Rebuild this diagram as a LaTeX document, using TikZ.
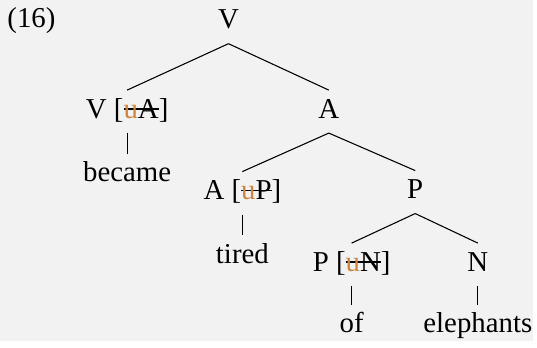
\documentclass[tikz,border=0pt]{standalone}
\usepackage{fontspec}
\setmainfont{Liberation Serif}
\usepackage{tikz}
\usetikzlibrary{positioning}
\definecolor{uninterp}{RGB}{205,133,63}
\definecolor{paper}{RGB}{242,242,242}
% strike a feature through, keeping its width
\newcommand{\struckout}[1]{\setbox0\hbox{#1}\rlap{\rule[0.3em]{\wd0}{0.45pt}}\box0}
\newcommand{\ufeat}[1]{[\struckout{\textcolor{uninterp}{u}#1}]}

\begin{document}
\begin{tikzpicture}[
    x=0.4138pt, y=-0.4138pt,
    cat/.style={anchor=base, inner xsep=2pt, inner ysep=3pt, text height=8.5pt, text depth=3pt, font=\fontsize{12}{14}\selectfont},
    word/.style={cat},
    branch/.style={line width=0.45pt}
]
    \fill[paper] (0,0) rectangle (537,343);

    \node[cat, anchor=base west, inner xsep=0pt] (ex) at (7,28) {(16)};

    % categories
    \node[cat] (v) at (230,29) {V};
    \node[cat] (va) at (128,119) {V \ufeat{A}};
    \node[cat] (a) at (331,119) {A};
    \node[cat] (ap) at (244,201) {A \ufeat{P}};
    \node[cat] (p) at (418,200) {P};
    \node[cat] (pn) at (354,273) {P \ufeat{N}};
    \node[cat] (n) at (481,273) {N};

    % words
    \node[word] (became) at (128,183) {became};
    \node[word] (tired) at (244,265) {tired};
    \node[word] (of) at (354,335) {of};
    \node[word] (elephants) at (481,335) {elephants};

    % branches
    \draw[branch] (v.south) -- (va.north);
    \draw[branch] (v.south) -- (a.north);
    \draw[branch] (a.south) -- (ap.north);
    \draw[branch] (a.south) -- (p.north);
    \draw[branch] (p.south) -- (pn.north);
    \draw[branch] (p.south) -- (n.north);
    \draw[branch] (va.south) -- (became.north);
    \draw[branch] (ap.south) -- (tired.north);
    \draw[branch] (pn.south) -- (of.north);
    \draw[branch] (n.south) -- (elephants.north);
\end{tikzpicture}
\end{document}
